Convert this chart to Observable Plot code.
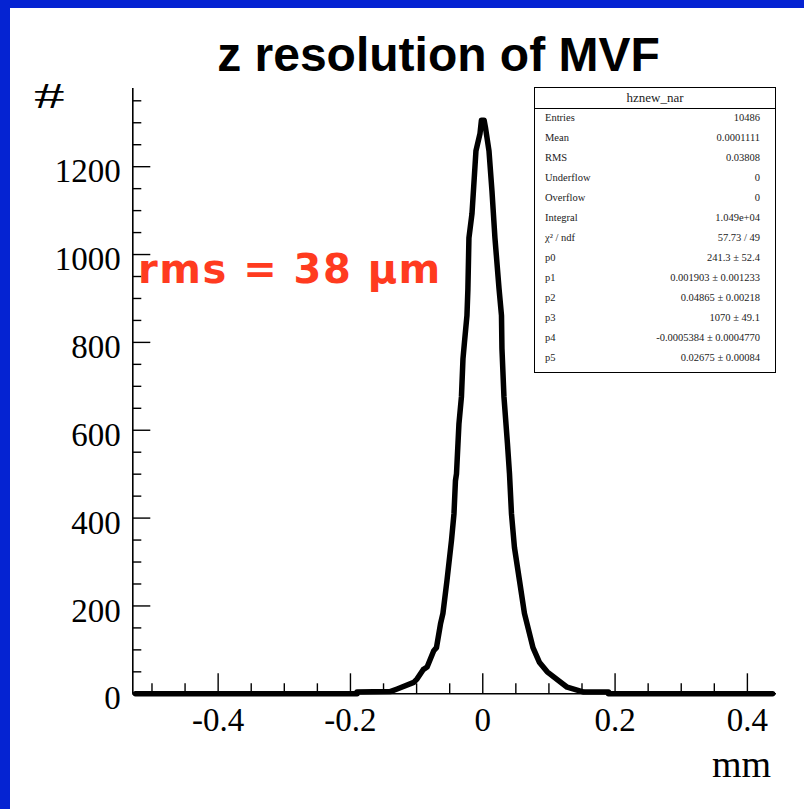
<!DOCTYPE html>
<html>
<head>
<meta charset="utf-8">
<script src="https://cdn.jsdelivr.net/npm/d3@7"></script>
<script src="https://cdn.jsdelivr.net/npm/@observablehq/plot@0.6"></script>
<style>
  body { margin: 0; background: #fff; }
  #wrap { position: relative; width: 804px; height: 809px; overflow: hidden; background: #fff; }
  .abs { position: absolute; white-space: pre; }
  #stats { position: absolute; left: 534px; top: 87px; width: 240px; height: 284px; border: 1.5px solid #000; font-family: "Liberation Serif", serif; color: #222; }
  #stats .hdr { position: absolute; left: 0; right: 0; top: 0; height: 20px; border-bottom: 1.5px solid #000; text-align: center; font-size: 13px; line-height: 20px; }
  #stats .row { position: absolute; left: 10px; right: 15px; height: 20px; line-height: 20px; font-size: 10.5px; }
  #stats .row .v { position: absolute; right: 0; top: 0; }
</style>
</head>
<body>
<div id="wrap">
  <div class="abs" style="left:0;top:0;width:10px;height:809px;background:rgb(5,35,210)"></div>
  <div class="abs" style="left:0;top:0;width:804px;height:8px;background:rgb(5,35,210)"></div>
  <div id="plot" class="abs" style="left:0;top:0"></div>
  <div class="abs" id="title" style="left:0;top:31px;width:877px;text-align:center;font-family:'Liberation Sans',Arial,sans-serif;font-weight:bold;font-size:48px;line-height:48px;color:#000"></div>
  <div class="abs" id="ylab" style="left:34px;top:78px;font-family:'Liberation Serif',serif;font-size:36px;line-height:36px;color:#000;transform:scaleX(1.7);transform-origin:left top"></div>
  <div class="abs" id="xlab" style="right:33px;top:745px;font-family:'Liberation Serif',serif;font-size:38px;line-height:38px;color:#000"></div>
  <div class="abs" id="note" style="left:138px;top:249px;font-family:'Comic Sans MS','DejaVu Sans',sans-serif;font-weight:bold;font-size:40px;line-height:40px;letter-spacing:1.5px;color:#ff3b1f"></div>
  <div id="stats"></div>
</div>
<script>
// ---- data ----
const titleText = "z resolution of MVF";
const yLabelText = "#";
const xLabelText = "mm";
const noteText = "rms = 38 \u03bcm";

const xDomain = [-0.529, 0.444];
const yDomain = [0, 1378];

const xMajor = [-0.4, -0.2, 0, 0.2, 0.4];
const xMajorLabels = ["-0.4", "-0.2", "0", "0.2", "0.4"];
const xMinor = [-0.5, -0.45, -0.35, -0.3, -0.25, -0.15, -0.1, -0.05, 0.05, 0.1, 0.15, 0.25, 0.3, 0.35];

const yMajor = [0, 200, 400, 600, 800, 1000, 1200];
const yMajorLabels = ["0", "200", "400", "600", "800", "1000", "1200"];
const yMinor = [50, 100, 150, 250, 300, 350, 450, 500, 550, 650, 700, 750, 850, 900, 950, 1050, 1100, 1150, 1250, 1300, 1350];

// curve (mm, entries)
const curveX = [-0.525, -0.19, -0.19, -0.14, -0.1294, -0.1043, -0.0992, -0.0901, -0.0841, -0.0741, -0.07, -0.0639, -0.0602, -0.0541, -0.0473, -0.0435, -0.0413, -0.0397, -0.036, -0.0322, -0.0299, -0.0277, -0.0239, -0.0225, -0.0209, -0.0163, -0.0141, -0.0103, -0.0042, -0.002, 0.002, 0.004, 0.0094, 0.0139, 0.0184, 0.0245, 0.0283, 0.029, 0.032, 0.0373, 0.0404, 0.0434, 0.0479, 0.0555, 0.063, 0.0759, 0.0855, 0.0974, 0.1276, 0.1527, 0.19, 0.19, 0.438];
const curveY = [0, 0, 4, 5, 11, 26, 34, 55, 61, 98, 105, 159, 183, 258, 349, 410, 485, 501, 615, 677, 763, 800, 861, 920, 1038, 1093, 1145, 1236, 1275, 1306, 1306, 1290, 1236, 1145, 1038, 924, 861, 786, 677, 570, 501, 410, 333, 258, 183, 105, 72, 50, 15, 4, 4, 0, 0];

const statsTitle = "hznew_nar";
const statLabels = ["Entries", "Mean", "RMS", "Underflow", "Overflow", "Integral", "\u03c7\u00b2 / ndf", "p0", "p1", "p2", "p3", "p4", "p5"];
const statValues = ["10486", "0.0001111", "0.03808", "0", "0", "1.049e+04", "57.73 / 49", "241.3  \u00b1 52.4", "0.001903  \u00b1 0.001233", "0.04865  \u00b1 0.00218", "1070  \u00b1 49.1", "-0.0005384  \u00b1 0.0004770", "0.02675  \u00b1 0.00084"];

// ---- chart ----
const idx = curveX.map((_, i) => i);
const serif = "'Liberation Serif', 'Times New Roman', serif";
const fmtX = d => xMajorLabels[xMajor.indexOf(d)];
const fmtY = d => yMajorLabels[yMajor.indexOf(d)];

const chart = Plot.plot({
  width: 804,
  height: 809,
  marginLeft: 132.3,
  marginRight: 28,
  marginTop: 88,
  marginBottom: 115.7,
  style: { background: "transparent", overflow: "visible", color: "#000" },
  x: { domain: xDomain },
  y: { domain: yDomain },
  marks: [
    Plot.ruleY([yDomain[0]], { stroke: "#000", strokeWidth: 1.6 }),
    Plot.ruleX([xDomain[0]], { stroke: "#000", strokeWidth: 1.6 }),
    Plot.axisX({ ticks: xMajor, tickSize: -20, tickFormat: () => "", label: null, strokeWidth: 1.4 }),
    Plot.axisX({ ticks: xMinor, tickSize: -10, tickFormat: () => "", label: null, strokeWidth: 1.4 }),
    Plot.axisY({ ticks: yMajor, tickSize: -18, tickFormat: () => "", label: null, strokeWidth: 1.4 }),
    Plot.axisY({ ticks: yMinor, tickSize: -9, tickFormat: () => "", label: null, strokeWidth: 1.4 }),
    Plot.axisX({ ticks: xMajor, tickSize: 0, tickPadding: 14, tickFormat: fmtX, label: null, fontSize: 33, fontFamily: serif }),
    Plot.axisY({ ticks: yMajor, tickSize: 0, tickPadding: 12, dy: 5, tickFormat: fmtY, label: null, fontSize: 33, fontFamily: serif }),
    Plot.line(idx, { x: i => curveX[i], y: i => curveY[i], stroke: "#000", strokeWidth: 5.5, curve: "linear" })
  ]
});
document.getElementById("plot").appendChild(chart);

document.getElementById("title").textContent = titleText;
document.getElementById("ylab").textContent = yLabelText;
document.getElementById("xlab").textContent = xLabelText;
document.getElementById("note").textContent = noteText;

const stats = document.getElementById("stats");
const hdr = document.createElement("div");
hdr.className = "hdr";
hdr.textContent = statsTitle;
stats.appendChild(hdr);
statLabels.forEach((lab, i) => {
  const r = document.createElement("div");
  r.className = "row";
  r.style.top = (19.7 + i * 20) + "px";
  const l = document.createElement("span");
  l.textContent = lab;
  const v = document.createElement("span");
  v.className = "v";
  v.textContent = statValues[i];
  r.appendChild(l);
  r.appendChild(v);
  stats.appendChild(r);
});
</script>
</body>
</html>
